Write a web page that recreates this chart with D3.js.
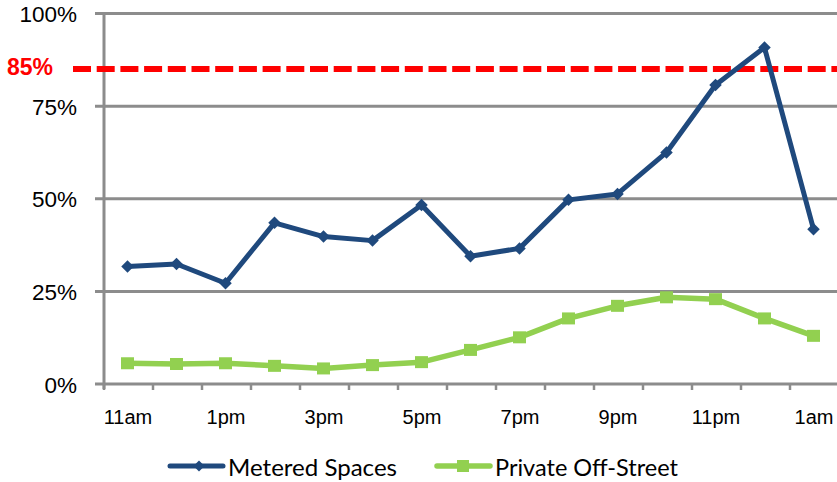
<!DOCTYPE html>
<html>
<head>
<meta charset="utf-8">
<script src="https://cdn.jsdelivr.net/npm/d3@7"></script>
<style>
html,body{margin:0;padding:0;background:#fff;}
svg{display:block;}
</style>
</head>
<body>
<svg id="chart" width="837" height="482"></svg>
<script>
const categories = ["11am","12pm","1pm","2pm","3pm","4pm","5pm","6pm","7pm","8pm","9pm","10pm","11pm","12am","1am"];
const tickLabels = ["11am","1pm","3pm","5pm","7pm","9pm","11pm","1am"];
const metered = [31.7,32.4,27.2,43.5,39.8,38.7,48.3,34.5,36.6,49.7,51.3,62.5,80.7,90.8,41.8];
const privateOff = [5.6,5.4,5.6,4.9,4.2,5.1,5.9,9.2,12.6,17.7,21.1,23.4,22.9,17.7,13.0];
const yTicks = [0,25,50,75,100];
const target = 85;
const seriesNames = ["Metered Spaces","Private Off-Street"];

const svg = d3.select("#chart");
const W = 837;
const x = d3.scaleBand().domain(categories).range([103, 838]);
const cx = c => x(c) + x.bandwidth()/2;
const y = d3.scaleLinear().domain([0,100]).range([384, 13.5]);
const gridColor = "#8c8c8c";
const blue = "#1F497D", green = "#92D050";

// gridlines
svg.append("g").selectAll("line").data(yTicks).join("line")
  .attr("x1", 95).attr("x2", W)
  .attr("y1", d => y(d)).attr("y2", d => y(d))
  .attr("stroke", gridColor).attr("stroke-width", 3);
// y axis line
svg.append("line").attr("x1",104).attr("x2",104).attr("y1",y(100)-1.5).attr("y2",y(0)+5)
  .attr("stroke", gridColor).attr("stroke-width", 3);
// x ticks at band edges
const edges = categories.map(c => x(c)).concat([x.range()[1]]);
svg.append("g").selectAll("line").data(edges).join("line")
  .attr("x1", d => d+1).attr("x2", d => d+1).attr("y1", y(0)).attr("y2", y(0)+6)
  .attr("stroke", gridColor).attr("stroke-width", 2.5);

// y labels
svg.append("g").selectAll("text").data(yTicks).join("text")
  .attr("x", 77).attr("y", d => y(d) + 8.5)
  .attr("text-anchor","end")
  .attr("font-family","'Liberation Sans', Arial, sans-serif").attr("font-size",22.5)
  .attr("fill","#000").text(d => d + "%");

// x labels via axis
const xAxis = d3.axisBottom(d3.scalePoint().domain(categories).range([cx(categories[0]), cx(categories[categories.length-1])]))
  .tickSize(0).tickPadding(0)
  .tickFormat(d => tickLabels.includes(d) ? d : "");
const gx = svg.append("g").attr("transform", `translate(0,${y(0)+26})`).call(xAxis);
gx.select(".domain").remove();
gx.selectAll("text").attr("font-family","'Liberation Sans', Arial, sans-serif").attr("font-size",20).attr("fill","#000").attr("dy","0.71em");

// target dashed line
svg.append("line").attr("x1",73).attr("x2",W).attr("y1",y(target)).attr("y2",y(target))
  .attr("stroke","#FF0000").attr("stroke-width",6).attr("stroke-dasharray","18,5.7");
svg.append("text").attr("x",7).attr("y",y(target)+6)
  .attr("font-family","'Liberation Sans', Arial, sans-serif").attr("font-size",23).attr("font-weight","bold")
  .attr("fill","#FF0000").text(target + "%");

const line = d3.line().x((d,i) => cx(categories[i])).y(d => y(d));

// green series
svg.append("path").datum(privateOff).attr("d", line).attr("fill","none")
  .attr("stroke",green).attr("stroke-width",5.5).attr("stroke-linejoin","round");
svg.append("g").selectAll("rect").data(privateOff).join("rect")
  .attr("x",(d,i)=>cx(categories[i])-6.5).attr("y",d=>y(d)-6).attr("width",13).attr("height",12)
  .attr("fill",green);

// blue series
svg.append("path").datum(metered).attr("d", line).attr("fill","none")
  .attr("stroke",blue).attr("stroke-width",5).attr("stroke-linejoin","round");
svg.append("g").selectAll("path").data(metered).join("path")
  .attr("d", d3.symbol().type(d3.symbolSquare).size(78))
  .attr("transform",(d,i)=>`translate(${cx(categories[i])},${y(d)}) rotate(45)`)
  .attr("fill",blue);

// legend
const lg = svg.append("g");
const legendFont = "Lato, 'Open Sans', 'Liberation Sans', sans-serif";
lg.append("line").attr("x1",170).attr("x2",223).attr("y1",466).attr("y2",466)
  .attr("stroke",blue).attr("stroke-width",5).attr("stroke-linecap","round");
lg.append("path").attr("d", d3.symbol().type(d3.symbolSquare).size(60)).attr("transform","translate(199,466) rotate(45)").attr("fill",blue);
lg.append("text").attr("x",228).attr("y",476).attr("font-family",legendFont).attr("font-size",23)
  .attr("textLength",169).attr("lengthAdjust","spacingAndGlyphs").attr("fill","#000").text(seriesNames[0]);
lg.append("line").attr("x1",437).attr("x2",490).attr("y1",466).attr("y2",466)
  .attr("stroke",green).attr("stroke-width",5.5).attr("stroke-linecap","round");
lg.append("rect").attr("x",457).attr("y",460).attr("width",12).attr("height",12).attr("fill",green);
lg.append("text").attr("x",495).attr("y",476).attr("font-family",legendFont).attr("font-size",23)
  .attr("textLength",183).attr("lengthAdjust","spacingAndGlyphs").attr("fill","#000").text(seriesNames[1]);
</script>
</body>
</html>
